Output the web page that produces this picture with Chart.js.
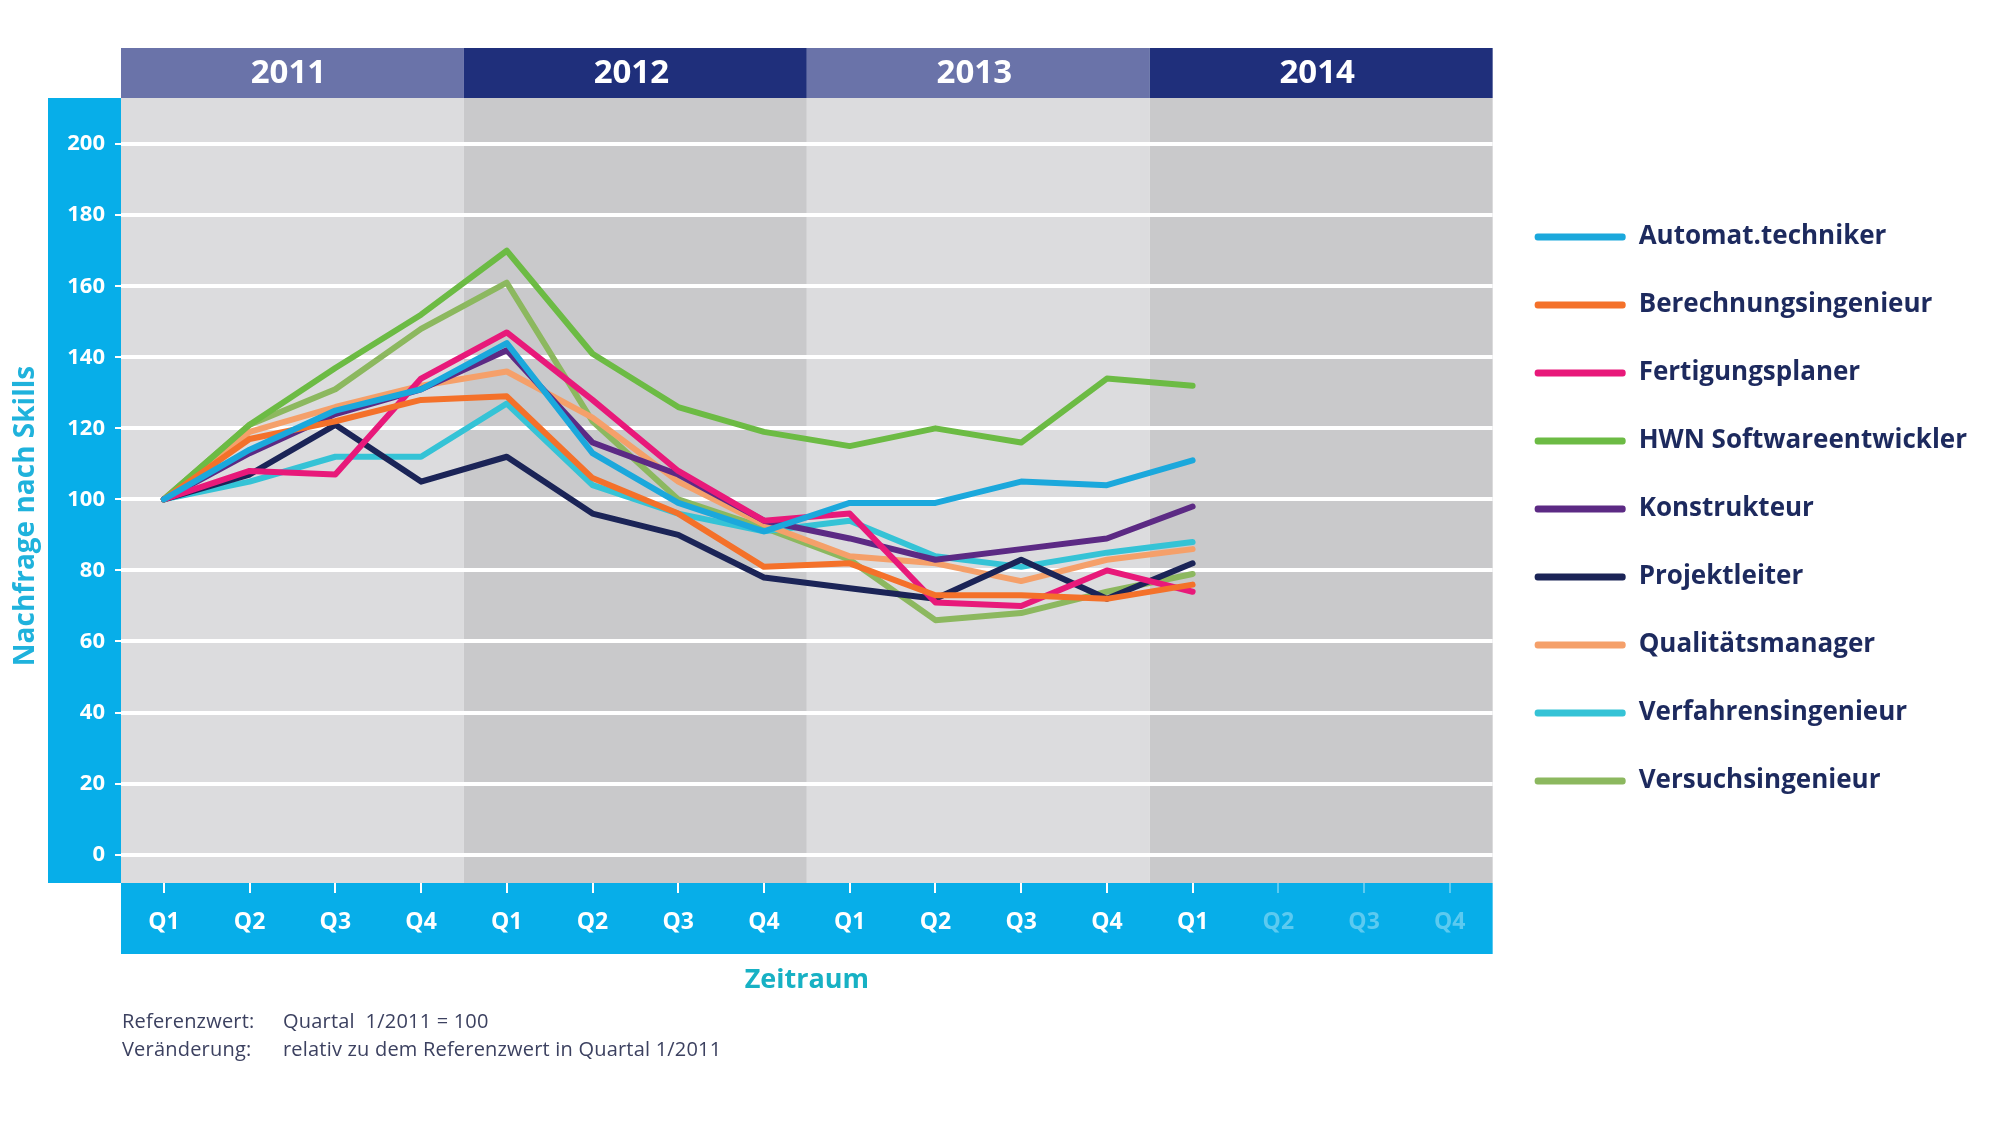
<!DOCTYPE html>
<html lang="de">
<head>
<meta charset="UTF-8">
<title>Nachfrage nach Skills</title>
<script src="https://cdn.jsdelivr.net/npm/chart.js"></script>
<style>
  html, body { margin: 0; padding: 0; background: #fff; }
  .wrap { position: relative; width: 2000px; height: 1124px; }
  canvas { display: block; }
  .note { position: absolute; left: 122px; top: 1007px; font: 20px "Open Sans", sans-serif; letter-spacing: 0.2px; color: #3c4160; line-height: 28px; }
  .note span { display: inline-block; width: 161px; }
</style>
</head>
<body>
<div class="wrap">
  <canvas id="chart" width="2000" height="1124"></canvas>
  <div class="note">
    <div><span>Referenzwert:</span>Quartal&nbsp; 1/2011 = 100</div>
    <div><span>Veränderung:</span>relativ zu dem Referenzwert in Quartal 1/2011</div>
  </div>
</div>

<script>
// quarters Q1/2011 .. Q4/2014, data only up to Q1/2014
const years = ['2011', '2012', '2013', '2014'];
const quarters = ['Q1', 'Q2', 'Q3', 'Q4', 'Q1', 'Q2', 'Q3', 'Q4', 'Q1', 'Q2', 'Q3', 'Q4', 'Q1', 'Q2', 'Q3', 'Q4'];
const yTicks = [0, 20, 40, 60, 80, 100, 120, 140, 160, 180, 200];

const automattechniker     = [100, 114, 125, 131, 144, 113, 99, 91, 99, 99, 105, 104, 111];
const berechnungsingenieur = [100, 117, 122, 128, 129, 106, 96, 81, 82, 73, 73, 72, 76];
const fertigungsplaner     = [100, 108, 107, 134, 147, 128, 108, 94, 96, 71, 70, 80, 74];
const hwnSoftware          = [100, 121, 137, 152, 170, 141, 126, 119, 115, 120, 116, 134, 132];
const konstrukteur         = [100, 113, 124, 131, 142, 116, 107, 94, 89, 83, 86, 89, 98];
const projektleiter        = [100, 107, 121, 105, 112, 96, 90, 78, 75, 72, 83, 72, 82];
const qualitaetsmanager    = [100, 119, 126, 132, 136, 123, 105, 93, 84, 82, 77, 83, 86];
const verfahrensingenieur  = [100, 105, 112, 112, 127, 104, 96, 91, 94, 84, 81, 85, 88];
const versuchsingenieur    = [100, 121, 131, 148, 161, 122, 100, 92, 83, 66, 68, 74, 79];

const BLUE = '#07aee9';
const FADED = '#5ccaf0';
const lastIdx = automattechniker.length - 1;

Chart.defaults.font.family = '"Open Sans", sans-serif';

function line(label, data, color) {
    return { label: label, data: data, borderColor: color, backgroundColor: color,
             borderWidth: 6, pointRadius: 0, tension: 0, borderJoinStyle: 'round', borderCapStyle: 'round' };
}

// background bands, year header, blue axis bars
const backdrop = {
    id: 'backdrop',
    beforeDraw(chart) {
        const { ctx, chartArea: a, scales: { x } } = chart;
        ctx.save();
        years.forEach((yr, i) => {
            const first = i * 4, last = i * 4 + 3;
            const l = first === 0 ? a.left : (x.getPixelForValue(first - 1) + x.getPixelForValue(first)) / 2;
            const r = last === quarters.length - 1 ? a.right : (x.getPixelForValue(last) + x.getPixelForValue(last + 1)) / 2;
            ctx.fillStyle = i % 2 ? '#c9c9cb' : '#dcdcde';
            ctx.fillRect(l, a.top, r - l, a.bottom - a.top);
            ctx.fillStyle = i % 2 ? '#1f2f7b' : '#6a73a9';
            ctx.fillRect(l, a.top - 50, r - l, 50);
            ctx.fillStyle = '#fff';
            ctx.font = 'bold 33px "Open Sans", sans-serif';
            ctx.textAlign = 'center';
            ctx.textBaseline = 'middle';
            ctx.fillText(yr, (l + r) / 2 - 4, a.top - 24);
        });
        ctx.fillStyle = BLUE;
        ctx.fillRect(a.left - 73, a.top, 73, a.bottom - a.top);
        ctx.fillRect(a.left, a.bottom, a.right - a.left, 71);

        ctx.translate(26, 516);
        ctx.rotate(-Math.PI / 2);
        ctx.fillStyle = '#1fb2dc';
        ctx.font = 'bold 28px "Open Sans", sans-serif';
        ctx.textAlign = 'center';
        ctx.textBaseline = 'middle';
        ctx.fillText('Nachfrage nach Skills', 0, 0);
        ctx.restore();
    }
};

new Chart(document.getElementById('chart'), {
    type: 'line',
    data: {
        labels: quarters,
        datasets: [
            line('Automat.techniker', automattechniker, '#1ba8dc'),
            line('Berechnungsingenieur', berechnungsingenieur, '#f4712a'),
            line('Fertigungsplaner', fertigungsplaner, '#e8197a'),
            line('HWN Softwareentwickler', hwnSoftware, '#6cbb44'),
            line('Konstrukteur', konstrukteur, '#5c2a84'),
            line('Projektleiter', projektleiter, '#1b2457'),
            line('Qualitätsmanager', qualitaetsmanager, '#f5a06a'),
            line('Verfahrensingenieur', verfahrensingenieur, '#35c3d6'),
            line('Versuchsingenieur', versuchsingenieur, '#8cb85f')
        ]
    },
    options: {
        responsive: false,
        animation: false,
        events: [],
        layout: { padding: { top: 98, bottom: 125, left: 0, right: 23 } },
        plugins: {
            tooltip: { enabled: false },
            legend: {
                position: 'right',
                align: 'start',
                fullSize: false,
                title: { display: true, text: '', padding: { top: 72, bottom: 0 }, font: { size: 10 } },
                labels: {
                    boxWidth: 91, boxHeight: 7, padding: 42,
                    color: '#1d2a5e',
                    font: { size: 26, weight: 'bold' },
                    useBorderRadius: true, borderRadius: 3,
                    generateLabels(chart) {
                        const items = Chart.defaults.plugins.legend.labels.generateLabels(chart);
                        items.forEach(it => { it.lineWidth = 0; it.fillStyle = it.strokeStyle; });
                        return items;
                    }
                }
            }
        },
        scales: {
            x: {
                offset: true,
                border: { display: false },
                grid: {
                    drawOnChartArea: false, tickLength: 10, lineWidth: 2,
                    tickColor: c => c.index > lastIdx ? FADED : '#fff'
                },
                ticks: {
                    autoSkip: false, maxRotation: 0, padding: 16,
                    color: c => c.index > lastIdx ? FADED : '#fff',
                    font: { size: 23, weight: 'bold' }
                },
                title: {
                    display: true, text: 'Zeitraum', color: '#17b1c4',
                    font: { size: 27, weight: 'bold' }, padding: { top: 4, bottom: 2 }
                },
                afterFit(s) { s.height = 116; }
            },
            y: {
                min: -8, max: 213,
                afterBuildTicks(s) { s.ticks = yTicks.map(v => ({ value: v })); },
                border: { display: false },
                grid: { color: '#fff', lineWidth: 4, tickLength: 6, tickColor: '#fff', tickWidth: 2 },
                ticks: { color: '#fff', padding: 10, font: { size: 22, weight: 'bold' } },
                afterFit(s) { s.width = 121; }
            }
        }
    },
    plugins: [backdrop]
});
</script>
</body>
</html>
